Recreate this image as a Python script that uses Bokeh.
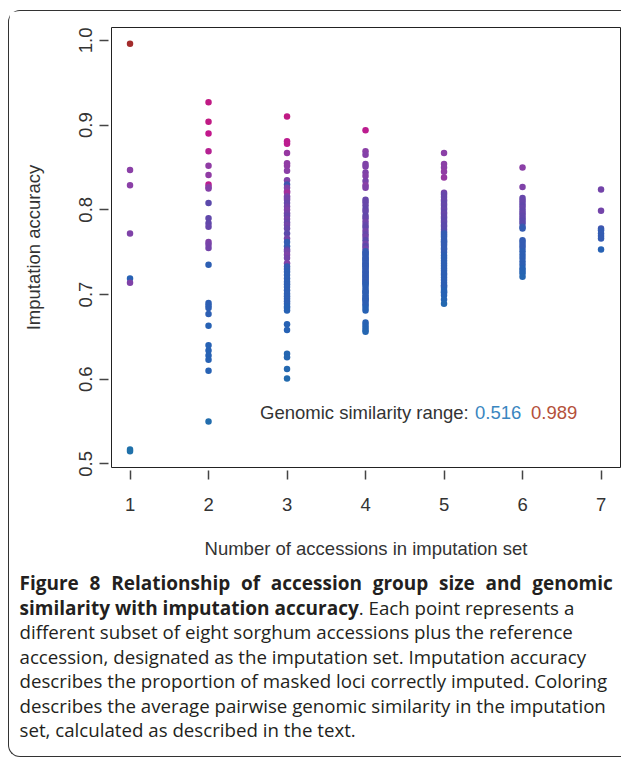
import numpy as np
from bokeh.plotting import figure
from bokeh.layouts import column
from bokeh.models import (ColumnDataSource, LinearColorMapper, FixedTicker, Label, Range1d, Div)
from bokeh.transform import transform
from bokeh.embed import file_html
from bokeh.resources import INLINE

# ---------------- data ----------------
group_sizes = [1, 2, 3, 4, 5, 6, 7]

acc_1 = [0.996, 0.847, 0.829, 0.772, 0.719, 0.714, 0.517, 0.515]
sim_1 = [0.989, 0.76, 0.76, 0.74, 0.60, 0.74, 0.53, 0.53]

acc_2 = [0.927, 0.904, 0.890, 0.869, 0.852, 0.841, 0.830, 0.827, 0.825, 0.808,
         0.790, 0.784, 0.780, 0.762, 0.759, 0.755, 0.735, 0.690, 0.687, 0.684,
         0.677, 0.663, 0.640, 0.634, 0.628, 0.623, 0.610, 0.550]
sim_2 = [0.86, 0.86, 0.85, 0.83, 0.77, 0.77, 0.84, 0.77, 0.75, 0.68,
         0.69, 0.69, 0.70, 0.74, 0.73, 0.72, 0.61, 0.61, 0.61, 0.61,
         0.61, 0.60, 0.60, 0.60, 0.60, 0.60, 0.60, 0.55]

acc_3 = [0.910, 0.881, 0.878, 0.867, 0.855, 0.852, 0.846, 0.835, 0.830, 0.826,
         0.822, 0.820, 0.816, 0.814, 0.812, 0.808, 0.804, 0.800, 0.796, 0.793,
         0.789, 0.785, 0.782, 0.778, 0.772, 0.766, 0.762, 0.757, 0.753, 0.751,
         0.747, 0.743, 0.737, 0.733, 0.730, 0.727, 0.723, 0.719, 0.715, 0.712,
         0.709, 0.705, 0.701, 0.698, 0.695, 0.692, 0.689, 0.686, 0.684, 0.681,
         0.665, 0.658, 0.630, 0.626, 0.612, 0.601]
sim_3 = [0.86, 0.84, 0.84, 0.78, 0.77, 0.77, 0.76, 0.74, 0.64, 0.74,
         0.76, 0.80, 0.74, 0.72, 0.72, 0.70, 0.72, 0.74, 0.72, 0.70,
         0.72, 0.70, 0.72, 0.70, 0.68, 0.72, 0.62, 0.62, 0.68, 0.72,
         0.74, 0.72, 0.74, 0.62, 0.62, 0.61, 0.61, 0.61, 0.61, 0.61,
         0.61, 0.61, 0.61, 0.61, 0.61, 0.61, 0.61, 0.60, 0.60, 0.60,
         0.60, 0.60, 0.58, 0.58, 0.57, 0.56]

acc_4 = [0.894, 0.869, 0.865, 0.854, 0.851, 0.844, 0.840, 0.834, 0.829, 0.826,
         0.812, 0.809, 0.805, 0.801, 0.798, 0.793, 0.790, 0.786, 0.782, 0.779,
         0.775, 0.771, 0.768, 0.764, 0.760, 0.757, 0.754, 0.751, 0.749, 0.748,
         0.746, 0.744, 0.742, 0.741, 0.739, 0.737, 0.736, 0.734, 0.733, 0.731,
         0.729, 0.727, 0.726, 0.724, 0.722, 0.721, 0.719, 0.717, 0.716, 0.714,
         0.713, 0.711, 0.708, 0.705, 0.703, 0.702, 0.699, 0.697, 0.695, 0.694,
         0.692, 0.689, 0.687, 0.684, 0.681, 0.667, 0.664, 0.661, 0.658, 0.656]
sim_4 = [0.84, 0.76, 0.75, 0.74, 0.74, 0.74, 0.75, 0.73, 0.76, 0.74,
         0.70, 0.70, 0.70, 0.69, 0.70, 0.69, 0.70, 0.72, 0.70, 0.69,
         0.72, 0.70, 0.72, 0.68, 0.72, 0.68, 0.72, 0.62, 0.62, 0.62,
         0.62, 0.62, 0.62, 0.62, 0.62, 0.62, 0.62, 0.62, 0.62, 0.62,
         0.62, 0.62, 0.62, 0.62, 0.62, 0.62, 0.62, 0.62, 0.62, 0.62,
         0.61, 0.61, 0.61, 0.61, 0.61, 0.61, 0.61, 0.61, 0.61, 0.61,
         0.61, 0.61, 0.61, 0.60, 0.60, 0.60, 0.60, 0.59, 0.59, 0.58]

acc_5 = [0.867, 0.854, 0.850, 0.845, 0.838, 0.820, 0.818, 0.815, 0.812, 0.810,
         0.807, 0.805, 0.802, 0.800, 0.797, 0.795, 0.792, 0.790, 0.787, 0.785,
         0.782, 0.780, 0.777, 0.774, 0.772, 0.770, 0.768, 0.765, 0.763, 0.762,
         0.760, 0.758, 0.755, 0.753, 0.750, 0.746, 0.743, 0.740, 0.737, 0.734,
         0.731, 0.728, 0.725, 0.723, 0.720, 0.717, 0.714, 0.711, 0.710, 0.708,
         0.705, 0.703, 0.702, 0.699, 0.694, 0.689]
sim_5 = [0.76, 0.76, 0.76, 0.77, 0.78, 0.72, 0.70, 0.70, 0.70, 0.70,
         0.69, 0.70, 0.69, 0.70, 0.69, 0.70, 0.69, 0.69, 0.68, 0.69,
         0.68, 0.68, 0.68, 0.67, 0.62, 0.62, 0.62, 0.62, 0.62, 0.62,
         0.62, 0.62, 0.62, 0.62, 0.62, 0.61, 0.61, 0.61, 0.61, 0.61,
         0.61, 0.61, 0.61, 0.61, 0.61, 0.61, 0.61, 0.61, 0.61, 0.61,
         0.60, 0.60, 0.60, 0.60, 0.59, 0.57]

acc_6 = [0.850, 0.827, 0.814, 0.811, 0.808, 0.805, 0.802, 0.799, 0.796, 0.793,
         0.790, 0.787, 0.784, 0.780, 0.778, 0.764, 0.761, 0.758, 0.755, 0.751,
         0.747, 0.743, 0.739, 0.735, 0.731, 0.728, 0.725, 0.721]
sim_6 = [0.76, 0.74, 0.70, 0.70, 0.70, 0.69, 0.70, 0.69, 0.70, 0.69,
         0.69, 0.68, 0.68, 0.63, 0.62, 0.62, 0.62, 0.62, 0.62, 0.61,
         0.61, 0.61, 0.61, 0.61, 0.60, 0.60, 0.59, 0.58]

acc_7 = [0.824, 0.799, 0.778, 0.776, 0.772, 0.769, 0.766, 0.753]
sim_7 = [0.72, 0.72, 0.64, 0.62, 0.62, 0.62, 0.62, 0.60]

y_ticks = [0.5, 0.6, 0.7, 0.8, 0.9, 1.0]
y_tick_labels = ["0.5", "0.6", "0.7", "0.8", "0.9", "1.0"]
x_tick_labels = ["1", "2", "3", "4", "5", "6", "7"]

sim_min, sim_max = 0.516, 0.989

x_title = "Number of accessions in imputation set"
y_title = "Imputation accuracy"
range_title = "Genomic similarity range:"

caption_bold_1 = "Figure 8 Relationship of accession group size and genomic"
caption_bold_2 = "similarity with imputation accuracy"
caption_rest_2 = ". Each point represents a"
caption_lines = [
    "different subset of eight sorghum accessions plus the reference",
    "accession, designated as the imputation set. Imputation accuracy",
    "describes the proportion of masked loci correctly imputed. Coloring",
    "describes the average pairwise genomic similarity in the imputation",
    "set, calculated as described in the text.",
]

# ---------------- build source ----------------
accs = [acc_1, acc_2, acc_3, acc_4, acc_5, acc_6, acc_7]
sims = [sim_1, sim_2, sim_3, sim_4, sim_5, sim_6, sim_7]
xs, ys, ss = [], [], []
for g, a, s in zip(group_sizes, accs, sims):
    xs += [g] * len(a)
    ys += a
    ss += s
source = ColumnDataSource(dict(x=xs, y=ys, sim=ss))

# colour ramp (teal-blue -> blue -> violet -> purple -> magenta -> red)
stops = [(0.516, "#1f74a8"), (0.60, "#2762b4"), (0.68, "#5b49ab"),
         (0.76, "#8a40a7"), (0.85, "#c2188c"), (0.989, "#a32c2c")]


def hex2rgb(h):
    return np.array([int(h[i:i + 2], 16) for i in (1, 3, 5)], dtype=float)


palette = []
for t in np.linspace(sim_min, sim_max, 256):
    for (s0, c0), (s1, c1) in zip(stops[:-1], stops[1:]):
        if s0 <= t <= s1 + 1e-9:
            f = (t - s0) / (s1 - s0)
            rgb = hex2rgb(c0) * (1 - f) + hex2rgb(c1) * f
            palette.append("#%02x%02x%02x" % tuple(int(round(v)) for v in rgb))
            break
mapper = LinearColorMapper(palette=palette, low=sim_min, high=sim_max)

# ---------------- main figure ----------------
W = 612
p = figure(width=W, height=560, output_backend="svg", toolbar_location=None,
           x_range=Range1d(0.764, 7.248), y_range=Range1d(0.4958, 1.0152),
           min_border_left=102, min_border_right=1, min_border_top=16,
           min_border_bottom=104, background_fill_color="white",
           border_fill_color="white", margin=0)
p.grid.visible = False
p.outline_line_color = "#222222"
p.outline_line_width = 1

p.scatter("x", "y", source=source, size=6.5,
          fill_color=transform("sim", mapper), line_color=None)

ax_font = "Liberation Sans"
for ax in (p.xaxis[0], p.yaxis[0]):
    ax.axis_line_color = None
    ax.minor_tick_line_color = None
    ax.major_tick_in = -3
    ax.major_tick_out = 12
    ax.major_tick_line_color = "#444444"
    ax.major_tick_line_width = 1.5
    ax.major_label_text_font = ax_font
    ax.major_label_text_font_size = "18.5px"
    ax.major_label_text_color = "#333333"
    ax.axis_label_text_font = ax_font
    ax.axis_label_text_font_size = "18.5px"
    ax.axis_label_text_font_style = "normal"
    ax.axis_label_text_color = "#333333"

p.xaxis.ticker = FixedTicker(ticks=group_sizes)
p.xaxis.major_label_overrides = dict(zip(group_sizes, x_tick_labels))
p.xaxis.major_label_standoff = 18
p.xaxis.axis_label = x_title
p.xaxis.axis_label_standoff = 24

p.yaxis.ticker = FixedTicker(ticks=y_ticks)
p.yaxis.major_label_overrides = dict(zip(y_ticks, y_tick_labels))
p.yaxis.major_label_orientation = "vertical"
p.yaxis.major_label_standoff = 7
p.yaxis.axis_label = y_title
p.yaxis.axis_label_standoff = 33

# similarity range note
note_y = 0.5606
p.add_layout(Label(x=2.656, y=note_y, text=range_title, text_font=ax_font,
                   text_font_size="18.5px", text_color="#333333",
                   text_baseline="middle", text_align="left"))
p.add_layout(Label(x=5.395, y=note_y, text=f"{sim_min:.3f}", text_font=ax_font,
                   text_font_size="18.5px", text_color="#3a86c0",
                   text_baseline="middle", text_align="left"))
p.add_layout(Label(x=6.108, y=note_y, text=f"{sim_max:.3f}", text_font=ax_font,
                   text_font_size="18.5px", text_color="#b4503a",
                   text_baseline="middle", text_align="left"))

# ---------------- caption ----------------
cap_lines_html = [
    "<b style=\"font-size:19px;word-spacing:5.8px\">%s</b>" % caption_bold_1,
    "<b style=\"font-size:19px\">%s</b>%s" % (caption_bold_2, caption_rest_2),
] + caption_lines
cap_html = ("<div style=\"font-family:'Open Sans',sans-serif;font-size:18.7px;"
            "line-height:24.5px;color:#231f20;white-space:nowrap;"
            "padding:0 0 0 10.5px;margin:0;\">"
            + "<br>".join(cap_lines_html) + "</div>")
cap = Div(text=cap_html, width=W, height=185, margin=0,
          styles={"font-family": "'Open Sans', sans-serif"})

layout = column(p, cap, margin=(10, 0, 0, 8), spacing=0,
                styles={"border-left": "1.5px solid #333333",
                        "border-top": "1.5px solid #333333",
                        "border-bottom": "1.5px solid #333333",
                        "border-top-left-radius": "12px",
                        "border-bottom-left-radius": "12px"})

open("out.html", "w").write(file_html(layout, INLINE))
